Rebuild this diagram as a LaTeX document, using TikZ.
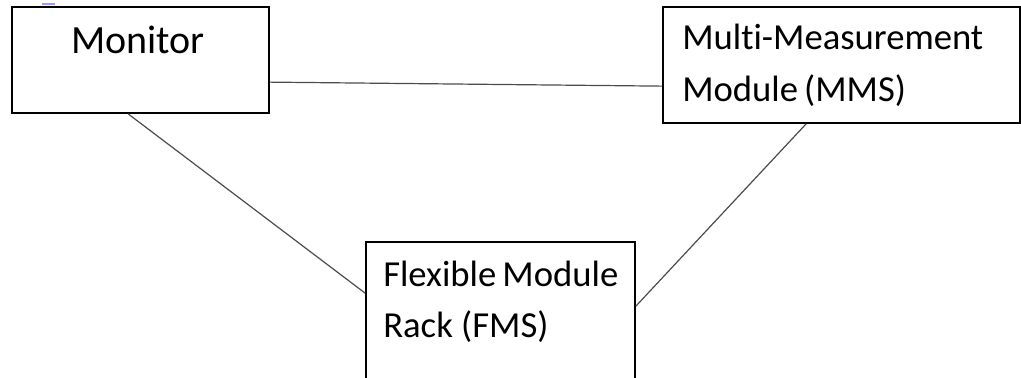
\documentclass[tikz,border=0pt]{standalone}
\usepackage{fontspec}
\setmainfont{Carlito}[Ligatures={NoCommon,NoContextual}]
\usetikzlibrary{calc}
\tikzset{
  box/.style={draw=black, line width=1.3pt, rectangle, inner sep=0pt},
  link/.style={draw=black!70, line width=0.9pt},
  lbl/.style={inner sep=0pt, text=black},
  bigfont/.style={font=\fontsize{30}{36}\selectfont},
  midfont/.style={font=\fontsize{27.5}{33}\selectfont},
}
\begin{document}
\begin{tikzpicture}[x=0.75pt, y=-0.75pt]
\useasboundingbox (0,0) rectangle (1021,378);
\clip (0,0) rectangle (1021,378);
\fill[white] (0,0) rectangle (1021,378);
% boxes
\node[box, minimum width=257*0.75pt, minimum height=106*0.75pt] (mon) at (140.5,60) {};
\node[box, minimum width=357*0.75pt, minimum height=116*0.75pt] (mms) at (841.5,65) {};
\node[box, minimum width=269*0.75pt, minimum height=158*0.75pt] (fms) at (500.5,321) {};
% texts
\node[lbl, bigfont, anchor=base] (tmon) at (138,54) {Monitor};
\node[lbl, midfont, anchor=base west] (tmms1) at (682,50) {Multi-Measurement};
\node[lbl, midfont, anchor=base west] (tmms2) at (682,102) {Module\,(MMS)};
\node[lbl, midfont, anchor=base west] (tfms1) at (383,286) {Flexible\,Module};
\node[lbl, midfont, anchor=base west] (tfms2) at (383,337) {Rack (FMS)};
% connectors
\draw[link] ($(mon.north east)+(0,76)$) -- ($(mms.north west)+(0,80)$);
\draw[link] ($(mon.south west)+(117,0)$) -- ($(fms.north west)+(0,52)$);
\draw[link] ($(mms.south west)+(144,0)$) -- ($(fms.north east)+(0,65)$);
% small blue mark
\draw[color=blue!40, line width=1.2pt] (42,4) -- (55,4);
\end{tikzpicture}
\end{document}
